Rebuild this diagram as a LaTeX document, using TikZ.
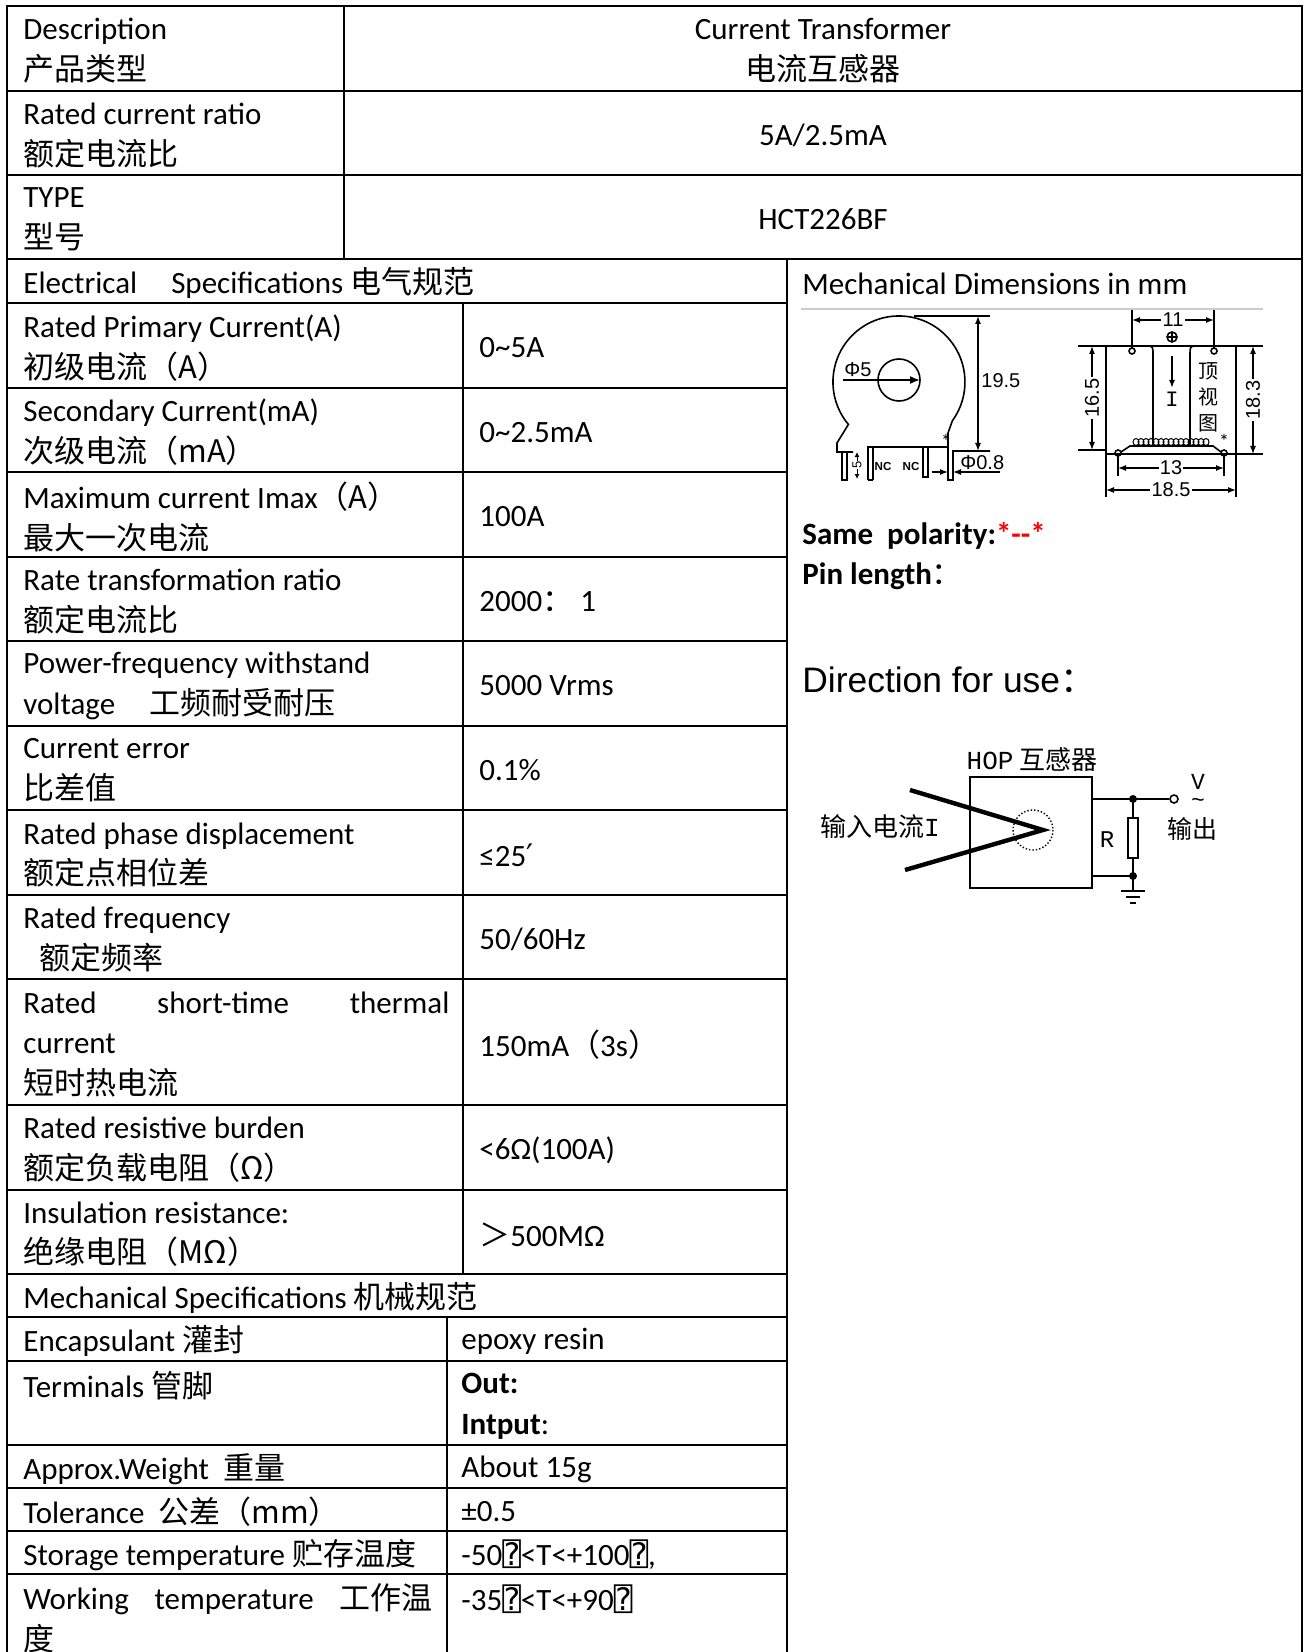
\documentclass[tikz,border=0pt]{standalone}
\usepackage{fontspec}
\setmainfont{Carlito}
\newfontfamily\cjk{Noto Sans CJK SC}
\newfontfamily\arialf{Liberation Sans}
\newfontfamily\monof{Liberation Mono}
\newfontfamily\symf{DejaVu Sans Mono}
\newfontfamily\dejav{DejaVu Sans}
\usepackage{xcolor}
\usetikzlibrary{arrows.meta,positioning}

\newcommand{\bodyfont}{\fontsize{15.5}{20.3}\selectfont}
\newcommand{\qbox}{{\symf ⍰}}

\begin{document}
\begin{tikzpicture}[x=0.5pt,y=-0.5pt,
  rule/.style={line width=1.4pt},
  cell/.style={anchor=west,align=left,inner sep=0pt,yshift=-1.2pt,font=\bodyfont},
  midtext/.style={align=center,inner sep=0pt,yshift=-1.2pt,font=\bodyfont},
  mech/.style={line width=0.8pt},
  dimarrow/.style={line width=0.6pt,{Latex[length=4pt,width=3pt]}-{Latex[length=4pt,width=3pt]}},
  dimlabel/.style={fill=white,inner sep=0.6pt,font=\arialf\fontsize{10}{10}\selectfont},
  wire/.style={line width=0.8pt},
  ckt/.style={inner sep=0pt,font=\fontsize{13}{13}\selectfont}]
\useasboundingbox (0,0) rectangle (1306,1652);

% table frame
\draw[rule] (7,1652) -- (7,6) -- (1302,6) -- (1302,1652);
\foreach \y in {91,175,259}
  \draw[rule] (7,\y) -- (1302,\y);
\foreach \y in {303,388,472,557,641,726,810,895,979,1105,1190,1274,1317,1361,1445,1488,1531,1574}
  \draw[rule] (7,\y) -- (787,\y);
\draw[rule] (344,6) -- (344,259);
\draw[rule] (787,259) -- (787,1652);
\draw[rule] (463,303) -- (463,1274);
\draw[rule] (447,1317) -- (447,1652);

% head rows
\node[cell] (desc) at (23,48.5) {Description\\{\cjk 产品类型}};
\node[midtext] (descv) at (823,48.5) {Current Transformer\\{\cjk 电流互感器}};
\node[cell] (ratio) at (23,133) {Rated current ratio\\{\cjk 额定电流比}};
\node[midtext] (ratiov) at (823,133) {5A/2.5mA};
\node[cell] (type) at (23,217) {TYPE\\{\cjk 型号}};
\node[midtext] (typev) at (823,217) {HCT226BF};

% electrical specifications
\node[cell] (elec) at (23,281) {Electrical\hspace{17pt}Specifications {\cjk 电气规范}};
\node[cell] (r1) at (23,345.5) {Rated Primary Current(A)\\{\cjk 初级电流（A）}};
\node[cell] (v1) at (479,345.5) {0\char`\~5A};
\node[cell] (r2) at (23,430) {Secondary Current(mA)\\{\cjk 次级电流（mA）}};
\node[cell] (v2) at (479,430) {0\char`\~2.5mA};
\node[cell] (r3) at (23,514.5) {Maximum current Imax{\cjk （A）}\\{\cjk 最大一次电流}};
\node[cell] (v3) at (479,514.5) {100A};
\node[cell] (r4) at (23,599) {Rate transformation ratio\\{\cjk 额定电流比}};
\node[cell] (v4) at (479,599) {2000{\cjk ：} 1};
\node[cell] (r5) at (23,683.5) {Power-frequency withstand\\voltage\hspace{17pt}{\cjk 工频耐受耐压}};
\node[cell] (v5) at (479,683.5) {5000 Vrms};
\node[cell] (r6) at (23,768) {Current error\\{\cjk 比差值}};
\node[cell] (v6) at (479,768) {0.1\%};
\node[cell] (r7) at (23,852.5) {Rated phase displacement\\{\cjk 额定点相位差}};
\node[cell] (v7) at (479,852.5) {≤25{\dejav ′}};
\node[cell] (r8) at (23,937) {Rated frequency\\\hspace{8pt}{\cjk 额定频率}};
\node[cell] (v8) at (479,937) {50/60Hz};
\node[cell] (r9) at (23,1042) {\makebox[213pt][s]{Rated\hfill short-time\hfill thermal}\\current\\{\cjk 短时热电流}};
\node[cell] (v9) at (479,1042) {150mA{\cjk （}3s{\cjk ）}};
\node[cell] (r10) at (23,1147.5) {Rated resistive burden\\{\cjk 额定负载电阻（Ω）}};
\node[cell] (v10) at (479,1147.5) {<6Ω(100A)};
\node[cell] (r11) at (23,1232) {Insulation resistance:\\{\cjk 绝缘电阻（MΩ）}};
\node[cell] (v11) at (479,1232) {{\cjk ＞}500MΩ};

% mechanical specifications
\node[cell] (mech) at (23,1295.5) {Mechanical Specifications {\cjk 机械规范}};
\node[cell] (m1) at (23,1339) {Encapsulant {\cjk 灌封}};
\node[cell] (w1) at (461,1339) {epoxy resin};
\node[cell] (m2) at (23,1383) {Terminals {\cjk 管脚}};
\node[cell] (w2) at (461,1404) {\textbf{Out:}\\\textbf{Intput}:};
\node[cell] (m3) at (23,1466.5) {Approx.Weight\ \ {\cjk 重量}};
\node[cell] (w3) at (461,1466.5) {About 15g};
\node[cell] (m4) at (23,1509.5) {Tolerance\ \ {\cjk 公差（mm）}};
\node[cell] (w4) at (461,1509.5) {±0.5};
\node[cell] (m5) at (23,1552.5) {Storage temperature {\cjk 贮存温度}};
\node[cell] (w5) at (461,1552.5) {-50\qbox<T<+100\qbox,};
\node[cell] (m6) at (23,1616) {\makebox[204.5pt][s]{Working\hfill temperature\hfill {\cjk 工作温}}\\{\cjk 度}};
\node[cell] (w6) at (461,1597) {-35\qbox<T<+90\qbox};

% right column
\node[cell] (dimtitle) at (802,281) {Mechanical Dimensions in mm};
\draw[gray!40,line width=0.8pt] (801,309) -- (1263,309);

% front view
\draw[mech] (853,452) -- (837,452) -- (837,443) -- (848.4,424.4)
  arc[start angle=140,end angle=396,radius=66]
  -- (948,433) -- (948,480) -- (953,480) -- (953,451) -- (990,451);
\draw[mech] (842,452) -- (842,480) -- (847,480) -- (847,452);
\draw[mech] (868,480) -- (868,447) -- (948,447);
\draw[mech] (873,480) -- (873,447);
\draw[mech] (868,480) -- (873,480);
\draw[mech] (923,447) -- (923,477) -- (928,477) -- (928,447);
\draw[mech] (899,380) circle[radius=21];
\draw[mech,-{Latex[length=5pt,width=4pt]}] (843,380) -- (920,380);
\node[anchor=south west,inner sep=0.5pt,font=\arialf\fontsize{10}{10}\selectfont] (phi5) at (843,378) {Φ5};
\draw[mech] (914,316) -- (990,316);
\draw[dimarrow] (978,316) -- (978,451);
\node[anchor=west,inner sep=0.5pt,fill=white,font=\arialf\fontsize{10}{10}\selectfont] (d195) at (980,381) {19.5};
\draw[line width=0.5pt,{Latex[length=2.5pt,width=2.5pt]}-{Latex[length=2.5pt,width=2.5pt]}] (857,452) -- (857,479);
\node[rotate=90,inner sep=0.3pt,fill=white,font=\arialf\fontsize{6.5}{6.5}\selectfont] (d5) at (857,465) {5};
\node[inner sep=0pt,font=\arialf\bfseries\fontsize{5.8}{5.8}\selectfont] (nc1) at (883,467) {NC};
\node[inner sep=0pt,font=\arialf\bfseries\fontsize{5.8}{5.8}\selectfont] (nc2) at (911,467) {NC};
\node[inner sep=0pt,font=\fontsize{10}{10}\selectfont] (star1) at (946,441) {*};
\draw[line width=0.6pt,-{Latex[length=4pt,width=3pt]}] (932,472) -- (948,472);
\draw[line width=0.6pt,-{Latex[length=4pt,width=3pt]}] (1000,472) -- (953,472);
\node[anchor=south west,inner sep=0.5pt,font=\arialf\fontsize{10}{10}\selectfont] (d08) at (959,471) {Φ0.8};

% top view
\draw[mech] (1106,346) rectangle (1236,454);
\draw[mech] (1078,346) -- (1106,346) (1236,346) -- (1263,346)
  (1078,450) -- (1106,450) (1236,454) -- (1263,454);
\draw[mech] (1149,346) .. controls (1153,347) .. (1153,356) -- (1153,446);
\draw[mech] (1194,346) .. controls (1190,347) .. (1190,356) -- (1190,446);
\foreach \p in {(1132,351),(1214,351),(1118,453),(1224,453)}
  \draw[mech] \p circle[radius=3];
\draw[mech] (1132,348) -- (1132,310) (1214,348) -- (1214,310);
\draw[dimarrow] (1132,320) -- (1214,320) node[midway,dimlabel] (d11) {11};
\draw[mech] (1172,337) circle[radius=5] (1167,337) -- (1177,337) (1172,332) -- (1172,342);
\draw[mech,-{Latex[length=4pt,width=3pt]}] (1172,356) -- (1172,388);
\node[inner sep=0pt,font=\monof\fontsize{11}{11}\selectfont] (icur) at (1172,399) {I};
\node[inner sep=0pt,font=\cjk\fontsize{10}{10}\selectfont] (ding) at (1208,371) {顶};
\node[inner sep=0pt,font=\cjk\fontsize{10}{10}\selectfont] (shi) at (1208,397) {视};
\node[inner sep=0pt,font=\cjk\fontsize{10}{10}\selectfont] (tu) at (1208,423) {图};
\draw[mech] (1121,452) -- (1130,446) -- (1213,446) -- (1221,452);
\foreach \i in {0,...,14}
  \draw[line width=0.5pt] (1136+5*\i,442) ellipse[x radius=3,y radius=3.5];
\node[inner sep=0pt,font=\fontsize{10}{10}\selectfont] (star2) at (1224,441) {*};
\draw[dimarrow] (1092,346) -- (1092,450) node[midway,dimlabel,rotate=90] (d165) {16.5};
\draw[dimarrow] (1253,346) -- (1253,454) node[midway,dimlabel,rotate=90] (d183) {18.3};
\draw[mech] (1118,456) -- (1118,476) (1224,456) -- (1224,476);
\draw[dimarrow] (1118,468) -- (1224,468) node[midway,dimlabel] (d13) {13};
\draw[mech] (1106,454) -- (1106,497) (1236,454) -- (1236,497);
\draw[dimarrow] (1106,490) -- (1236,490) node[midway,dimlabel] (d185) {18.5};

% notes
\node[cell,font=\bfseries\bodyfont] (samepol) at (802,533) {Same\ \ polarity:\textcolor{red}{*-{}-*}};
\node[cell,font=\bfseries\bodyfont] (pinlen) at (802,574) {Pin length{\cjk\mdseries ：}};
\node[cell,font=\arialf\fontsize{17.7}{20}\selectfont] (usage) at (802,677) {Direction for use{\cjk ：}};

% application circuit
\node[ckt] (hop) at (1032,760) {{\monof HOP} {\cjk 互感器}};
\node[draw,wire,minimum width=61pt,minimum height=55.5pt] (ct) at (1031,832.5) {};
\draw[line width=2.2pt] (910,790) -- (1043,830) -- (905,870);
\draw[densely dotted,line width=0.7pt] (1033,830) circle[radius=20];
\coordinate (jt) at (1133,799);
\coordinate (jb) at (1133,876);
\coordinate (gnd) at (1133,891);
\node[draw,wire,minimum width=5pt,minimum height=20pt,inner sep=0pt] (res) at (1133,838) {};
\node[circle,draw,wire,fill=white,inner sep=0pt,minimum size=4pt] (vout) at (1174,799) {};
\draw[wire] (ct.east |- jt) -- (jt) -- (vout);
\draw[wire] (jt) -- (res.north);
\draw[wire] (res.south) -- (jb) -- (gnd);
\draw[wire] (ct.east |- jb) -- (jb);
\fill (jt) circle[radius=4] (jb) circle[radius=4];
\draw[wire] (1121,891) -- (1145,891) (1126,897) -- (1140,897) (1130,903) -- (1136,903);
\node[ckt,font=\monof\fontsize{12}{12}\selectfont] (rlab) at (1107,840) {R};
\node[ckt,anchor=north,align=center,font=\monof\fontsize{11.5}{9}\selectfont] (vlab) at (1198,774) {V\\\char`\~};
\node[ckt,font=\cjk\fontsize{12.5}{13}\selectfont] (outlab) at (1192,829) {输出};
\node[ckt] (inlab) at (880,827) {{\cjk 输入电流}{\monof I}};
\end{tikzpicture}
\end{document}
